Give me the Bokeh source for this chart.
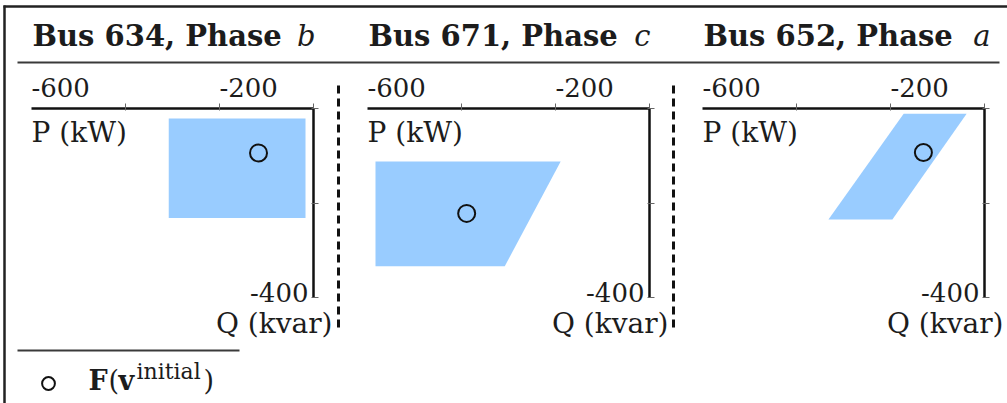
from bokeh.plotting import figure
from bokeh.models import (Range1d, FixedTicker, Label, Arrow, Legend,
                          LegendItem, LinearAxis)
from bokeh.embed import file_html
from bokeh.resources import INLINE

# ---------------- data ----------------
buses = ["634", "671", "652"]
phases = ["b", "c", "a"]
# feasible (P, Q) regions, vertices in kW / kvar
region_p = [
    [-308, -17, -17, -308],
    [-583, -189, -308, -583],
    [-172, -38, -196, -332],
]
region_q = [
    [-21, -21, -232, -232],
    [-112, -112, -334, -334],
    [-11, -11, -235, -235],
]
# F(v^initial) points
init_p = [-117, -389, -130]
init_q = [-94, -222, -93]

P_MIN, P_MAX = -600, 0
Q_MIN, Q_MAX = -400, 0
x_ticks = [-400, -200, 0]
y_ticks = [-400, -200, 0]
x_tick_labels = [-600, -200]
y_tick_labels = [-400]

# ---------------- layout (pixels) ----------------
W, H = 1007, 403
SX = 282 / 600.0          # px per kW
SY = 189 / 400.0          # px per kvar
FRAME_TOP = 108           # pixel row of Q = 0
frame_left = [31, 367, 702]   # pixel column of P = -600 for each panel
title_dx = [2, 1, 6]

FONT = "DejaVu Serif"
TXT = "#1c1c1c"
FILL = "#99ccff"
names = ["p0", "p1", "p2"]


def px_x(i, px):
    return P_MIN + (px - frame_left[i]) / SX


def px_y(py):
    return Q_MAX - (py - FRAME_TOP) / SY


p = figure(width=W, height=H,
           x_range=Range1d(px_x(0, 0), px_x(0, W)),
           y_range=Range1d(px_y(H), px_y(0)),
           x_axis_location=None, y_axis_location=None,
           min_border=0, toolbar_location=None, output_backend="svg",
           background_fill_color="white", border_fill_color="white")
p.extra_x_ranges = {names[i]: Range1d(px_x(i, 0), px_x(i, W)) for i in range(3)}
p.outline_line_color = None
p.grid.visible = False


def lab(i, text, x, y, dx=0, dy=0, size=26, style="normal", align="left"):
    # dy is the baseline offset in px; compensate the renderer's baseline shift
    p.add_layout(Label(x=x, y=y, x_offset=dx, y_offset=dy + 0.37 * size,
                       text=text, x_range_name=names[i],
                       text_font=FONT, text_font_size="%dpx" % size,
                       text_font_style=style, text_align=align,
                       text_baseline="alphabetic", text_color=TXT))


def rule(x0, y0, x1, y1, width=2.0, dash="solid", color="#333333"):
    p.add_layout(Arrow(end=None, start=None, x_start=px_x(0, x0),
                       y_start=px_y(y0), x_end=px_x(0, x1), y_end=px_y(y1),
                       line_width=width, line_dash=dash, line_color=color))


scatters = []
for i in range(3):
    xa = LinearAxis(x_range_name=names[i], fixed_location=Q_MAX,
                    bounds=(P_MIN, P_MAX),
                    ticker=FixedTicker(ticks=x_ticks, minor_ticks=[]))
    ya = LinearAxis(x_range_name=names[i], fixed_location=P_MAX,
                    bounds=(Q_MIN, Q_MAX),
                    ticker=FixedTicker(ticks=y_ticks, minor_ticks=[]))
    xa.major_label_overrides = {t: "" for t in x_ticks}
    ya.major_label_overrides = {t: "" for t in y_ticks}
    for ax in (xa, ya):
        ax.axis_line_width = 2.5
        ax.axis_line_color = "#111111"
        ax.major_tick_line_color = "#666666"
        ax.major_tick_line_width = 1
        ax.major_tick_out = 5
        ax.major_tick_in = 2
        ax.minor_tick_line_color = None
        ax.major_label_text_font_size = "1px"
        ax.major_label_standoff = 0
    p.add_layout(xa, "above")
    p.add_layout(ya, "right")

    p.patch(region_p[i], region_q[i], fill_color=FILL, line_color=None,
            x_range_name=names[i])
    sc = p.scatter(init_p[i], init_q[i], marker="circle", size=17,
                   fill_color=None, line_color="#111111", line_width=2,
                   x_range_name=names[i])
    scatters.append(sc)

    # tick labels
    for t in x_tick_labels:
        lab(i, str(t), t, Q_MAX, dy=11)
    for t in y_tick_labels:
        lab(i, str(t), P_MAX, t, dx=-5, dy=-5, align="right")
    # axis labels
    lab(i, "P (kW)", P_MIN, Q_MAX, dy=-34, size=28)
    lab(i, "Q (kvar)", P_MAX, Q_MIN, dx=19, dy=-36, size=28, align="right")
    # titles
    lab(i, "Bus %s, Phase" % buses[i], P_MIN, Q_MAX, dx=1, dy=62,
        size=29, style="bold")
    lab(i, phases[i], P_MAX, Q_MAX, dx=title_dx[i], dy=62, size=29,
        style="italic", align="right")

# frame border, title rule, separators
rule(3, 6, W, 6, width=2.5, color="#222222")
rule(4, 5, 4, H, width=2.5, color="#222222")
rule(17, 62, 999, 62, width=2.2, color="#3a3a3a")
rule(338, 85, 338, 331, width=3, dash="8 5", color="#111111")
rule(673, 85, 673, 331, width=3, dash="8 5", color="#111111")

# legend
rule(17, 350, 239, 350, width=2, color="#3a3a3a")
legend = Legend(items=[LegendItem(label=" ", renderers=[scatters[0]])],
                location=(32, 4), glyph_width=32, glyph_height=32,
                padding=0, margin=0, spacing=0, label_standoff=0,
                label_text_font_size="1px", border_line_color=None,
                background_fill_alpha=0)
p.add_layout(legend)
lab(0, "F", P_MIN, Q_MIN, dx=57, dy=-93, size=27, style="bold")
lab(0, "(", P_MIN, Q_MIN, dx=77, dy=-93, size=27)
lab(0, "v", P_MIN, Q_MIN, dx=87, dy=-93, size=27, style="bold")
lab(0, "initial", P_MIN, Q_MIN, dx=105, dy=-82, size=22)
lab(0, ")", P_MIN, Q_MIN, dx=172, dy=-93, size=27)

open("out.html", "w").write(file_html(p, INLINE))
